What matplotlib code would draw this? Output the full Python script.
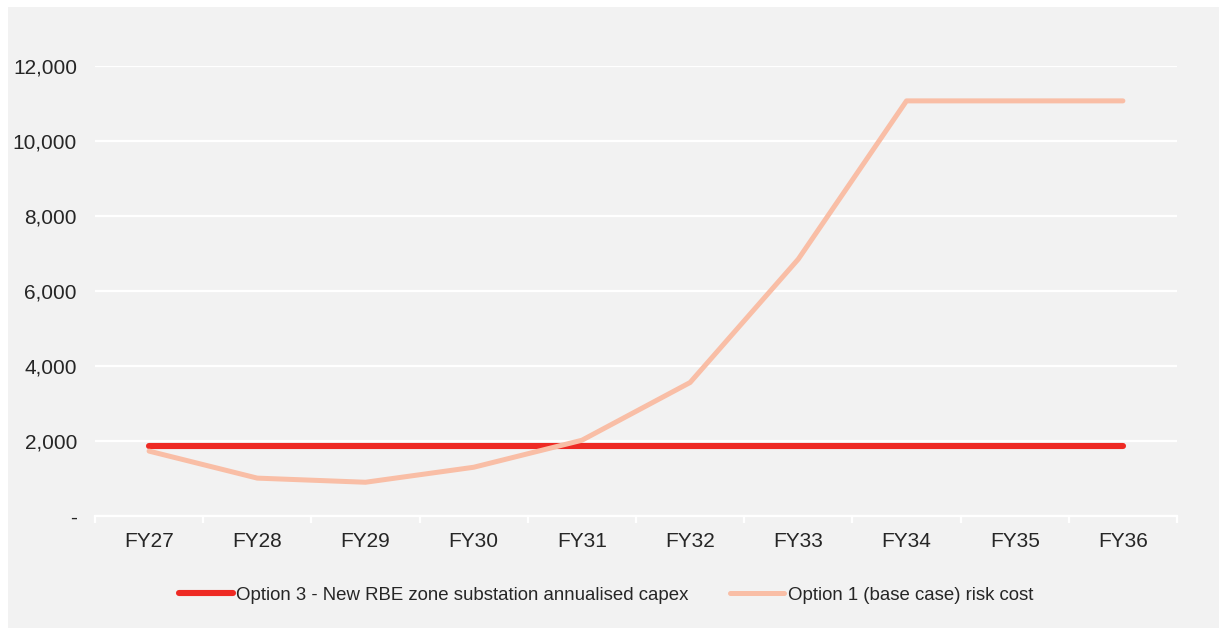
import matplotlib
matplotlib.use("Agg")
import matplotlib.pyplot as plt
from matplotlib.patches import Rectangle
from matplotlib.ticker import FuncFormatter, FixedLocator

plt.rcParams['font.family'] = ['Liberation Sans', 'DejaVu Sans']

years = ["FY27", "FY28", "FY29", "FY30", "FY31", "FY32", "FY33", "FY34", "FY35", "FY36"]
option3_capex = [1860, 1860, 1860, 1860, 1860, 1860, 1860, 1860, 1860, 1860]
option1_risk = [1730, 1010, 900, 1300, 2020, 3560, 6850, 11070, 11070, 11070]
y_ticks = [0, 2000, 4000, 6000, 8000, 10000, 12000]

label3 = "Option 3 - New RBE zone substation annualised capex"
label1 = "Option 1 (base case) risk cost"

W, H = 1219, 628
fig = plt.figure(figsize=(W / 100, H / 100), dpi=100, facecolor="white")

# grey panel behind the chart
fig.patches.append(Rectangle((8 / W, 0), 1 - 8 / W, 1 - 7 / H, transform=fig.transFigure,
                             facecolor="#f2f2f2", edgecolor="none", zorder=-10))

ax = fig.add_axes([95 / W, 112 / H, (1177 - 95) / W, (516 - 66) / H])
ax.set_facecolor("none")
ax.set_zorder(1)

x = list(range(len(years)))
ax.plot(x, option3_capex, color="#ee2a24", lw=4.4, solid_capstyle="round", label=label3, zorder=3)
ax.plot(x, option1_risk, color="#f9bea6", lw=3.6, solid_capstyle="round",
        solid_joinstyle="round", label=label1, zorder=4)

ax.set_xlim(-0.5, len(years) - 0.5)
ax.set_ylim(0, 12000)

ax.yaxis.set_major_locator(FixedLocator(y_ticks))
ax.yaxis.set_major_formatter(FuncFormatter(lambda v, p: "-" if v == 0 else f"{int(v):,}"))
ax.grid(axis="y", color="white", lw=1.6)
ax.set_axisbelow(True)

ax.set_xticks(x)
ax.set_xticklabels(years)
ax.set_xticks([i - 0.5 for i in range(len(years) + 1)], minor=True)
ax.tick_params(axis="x", which="major", length=0, pad=11.5, labelsize=15, labelcolor="#262626")
ax.tick_params(axis="x", which="minor", length=5, width=1.6, color="white", direction="out")
ax.tick_params(axis="y", length=0, pad=13, labelsize=15, labelcolor="#262626")

for side in ["top", "right", "left"]:
    ax.spines[side].set_visible(False)
ax.spines["bottom"].set_color("white")
ax.spines["bottom"].set_linewidth(1.6)

fig.legend(loc="center", bbox_to_anchor=(0.497, 33 / H), ncol=2, frameon=False,
           fontsize=13.4, handlelength=2.9, handletextpad=0.2, columnspacing=2.2,
           labelcolor="#262626")

fig.savefig("out.png", dpi=100, facecolor="white")
